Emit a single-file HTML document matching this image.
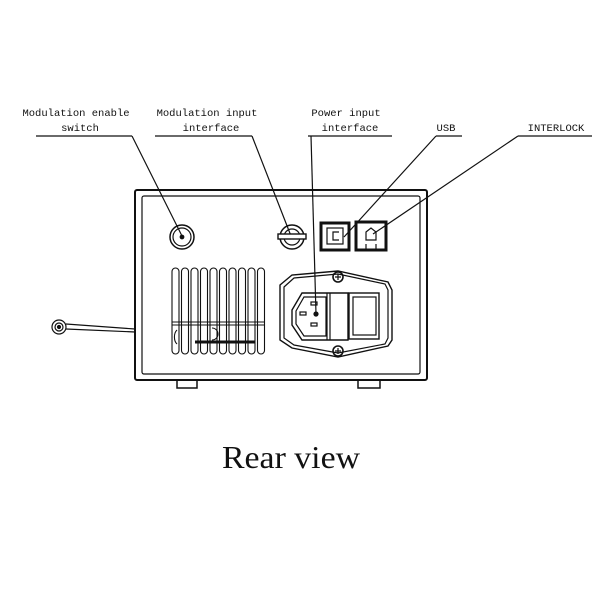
<!DOCTYPE html>
<html><head><style>
body{margin:0;background:#fff}
svg text{font-family:"Liberation Mono","DejaVu Sans Mono",monospace;fill:#111}
</style></head><body>
<svg width="600" height="600" viewBox="0 0 600 600" xmlns="http://www.w3.org/2000/svg">
<g stroke="#111" fill="none" stroke-width="1.2">
<line x1="36" y1="136" x2="132" y2="136"/><line x1="132" y1="136" x2="182" y2="236"/>
<line x1="155" y1="136" x2="252" y2="136"/><line x1="252" y1="136" x2="291" y2="236"/>
<line x1="308" y1="136" x2="392" y2="136"/><line x1="311" y1="136" x2="316" y2="314"/>
<line x1="436" y1="136" x2="462" y2="136"/><line x1="436" y1="136" x2="344" y2="237"/>
<line x1="518" y1="136" x2="592" y2="136"/><line x1="518" y1="136" x2="373" y2="234"/>
<rect x="135" y="190" width="292" height="190" rx="2" stroke-width="2"/>
<rect x="142" y="196" width="278" height="178" rx="2"/>
<path d="M177 380v8h20v-8M358 380v8h22v-8" stroke-width="1.5"/>
<circle cx="59" cy="327" r="7"/><circle cx="59" cy="327" r="4"/><circle cx="59" cy="327" r="1.5" fill="#111"/>
<path d="M66 324L135 329M66 329L135 332"/>
<circle cx="182" cy="237" r="12" stroke-width="1.5"/><circle cx="182" cy="237" r="9"/><circle cx="182" cy="237" r="1.8" fill="#111"/>
<circle cx="292" cy="237" r="12" stroke-width="1.5"/><circle cx="292" cy="237" r="8"/>
<rect x="278" y="234" width="28" height="5" fill="#fff" stroke-width="1.4"/>
<rect x="321" y="223" width="28" height="27" stroke-width="3"/>
<rect x="327" y="228" width="16" height="16"/><path d="M339 232h-6v8h6"/>
<rect x="356" y="222" width="30" height="28" stroke-width="3"/>
<path d="M366 232l5-4 5 4v8h-10z"/><path d="M366 244v6M376 244v6"/>
<g stroke-width="1.1">
<rect x="172" y="268" width="7" height="86" rx="3.5"/>
<rect x="181.5" y="268" width="7" height="86" rx="3.5"/>
<rect x="191" y="268" width="7" height="86" rx="3.5"/>
<rect x="200.5" y="268" width="7" height="86" rx="3.5"/>
<rect x="210" y="268" width="7" height="86" rx="3.5"/>
<rect x="219.5" y="268" width="7" height="86" rx="3.5"/>
<rect x="229" y="268" width="7" height="86" rx="3.5"/>
<rect x="238.5" y="268" width="7" height="86" rx="3.5"/>
<rect x="248" y="268" width="7" height="86" rx="3.5"/>
<rect x="257.5" y="268" width="7" height="86" rx="3.5"/>
<path d="M172 322h93M172 325h93"/>
<path d="M177 330a5 8 0 0 0 0 14M212 328a6 6 0 1 1 0 12"/>
<path d="M195 342h60" stroke-width="3"/>
</g>
<path d="M280 285L292 275L338 271L388 282L392 290V340L388 346L338 357L292 348L280 340Z" stroke-width="1.4"/>
<path d="M284 287L294 278L338 274L385 284L388 290V338L385 344L338 353L294 345L284 338Z"/>
<path d="M292 310L302 293H348V340H302L292 325Z" stroke-width="1.4"/>
<path d="M296 311L304 297H326V336H304L296 324Z"/>
<path d="M327 293V340M330 293V340"/>
<rect x="349" y="293" width="30" height="46" stroke-width="1.4"/>
<rect x="353" y="297" width="23" height="38"/>
<rect x="311" y="302" width="6" height="3"/><rect x="300" y="312" width="6" height="3"/><rect x="311" y="323" width="6" height="3"/>
<circle cx="316" cy="314" r="2" fill="#111"/>
<circle cx="338" cy="277" r="5" stroke-width="1.6"/><path d="M335 277h6M338 274v6"/>
<circle cx="338" cy="351" r="5" stroke-width="1.6"/><path d="M335 351h6M338 348v6"/>
</g>
<g font-size="10.5" text-anchor="middle">
<text x="76" y="116">Modulation enable</text><text x="80" y="131">switch</text>
<text x="207" y="116">Modulation input</text><text x="211" y="131">interface</text>
<text x="346" y="116">Power input</text><text x="350" y="131">interface</text>
<text x="446" y="131">USB</text>
<text x="556" y="131">INTERLOCK</text>
</g>
<text x="222" y="468" font-size="32" textLength="138" lengthAdjust="spacingAndGlyphs" style="font-family:'Liberation Serif',serif">Rear view</text>
</svg>
</body></html>
